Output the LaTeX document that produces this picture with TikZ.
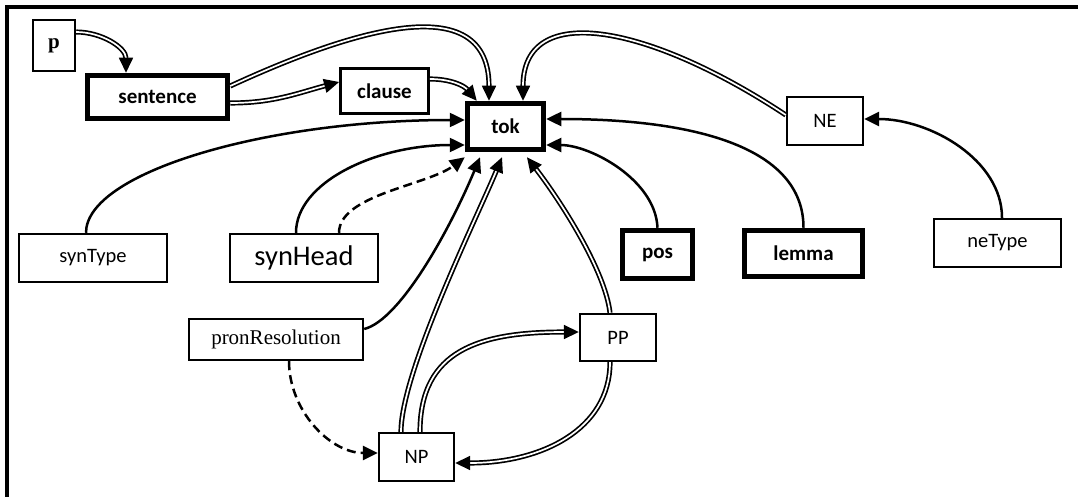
\documentclass[tikz,border=0pt]{standalone}
\usepackage{fontspec}
\setmainfont{Carlito}
\newfontfamily\tnr{Liberation Serif}
\usetikzlibrary{arrows.meta}
\tikzset{
  box/.style={draw, line width=2.4pt, inner sep=0pt, font=\fontsize{20.5}{24}\selectfont},
  thickbox/.style={box, line width=5.5pt, font=\fontsize{21}{24}\selectfont\bfseries},
  conn/.style={line width=2.5pt, -{Triangle[length=15pt,width=14pt]}},
  dconn/.style={line width=1.7pt, double, double distance=1.7pt, -{Triangle[length=15pt,width=14pt]}},
  dashconn/.style={conn, dash pattern=on 9pt off 5pt}
}
\begin{document}
\begin{tikzpicture}[x=1pt,y=1pt]
\useasboundingbox (0,0) rectangle (1078,-497);
\draw[line width=3.5pt] (5,-7) -- (1078,-7);
\draw[line width=3.5pt] (7,-7) -- (7,-497);

\node[box, minimum width=42, minimum height=51, font=\fontsize{21}{24}\selectfont\tnr\bfseries] (p) at (54,-45.5) {p};
\node[thickbox, minimum width=140, minimum height=43] (sentence) at (157.5,-97) {sentence};
\node[box, line width=2.8pt, minimum width=88, minimum height=45, font=\fontsize{21}{24}\selectfont\bfseries] (clause) at (384.5,-91) {clause};
\node[thickbox, minimum width=76, minimum height=46] (tok) at (505.5,-126.5) {tok};
\node[box, minimum width=76, minimum height=48] (NE) at (825,-121) {NE};
\node[box, minimum width=148, minimum height=48] (synType) at (93,-258) {synType};
\node[box, minimum width=148, minimum height=48, font=\fontsize{28.5}{32}\selectfont] (synHead) at (304,-258) {synHead};
\node[thickbox, minimum width=70, minimum height=48] (pos) at (657.5,-254.5) {pos};
\node[thickbox, minimum width=118, minimum height=46] (lemma) at (803.5,-253.5) {lemma};
\node[box, minimum width=127, minimum height=48] (neType) at (997.5,-243) {neType};
\node[box, minimum width=174, minimum height=41, font=\fontsize{21}{24}\selectfont\tnr] (pronResolution) at (276,-339.5) {pronResolution};
\node[box, minimum width=76, minimum height=47] (PP) at (618,-337.5) {PP};
\node[box, minimum width=75, minimum height=48] (NP) at (416.5,-457) {NP};

% double connectors
\draw[dconn] ([yshift=13.5]p.east) to[out=0,in=90] ([xshift=-31.5]sentence.north);
\draw[dconn] ([yshift=11]sentence.east) .. controls +(100,46) and +(0,121) .. ([xshift=-16.5]tok.north);
\draw[dconn] ([yshift=-6]sentence.east) to[out=0,in=195] ([yshift=9]clause.west);
\draw[dconn] ([yshift=12]clause.east) to[out=0,in=130] ([xshift=12]tok.north west);
\draw[dconn] ([yshift=6]NE.west) .. controls +(-136,90) and +(0,101) .. ([xshift=17.5]tok.north);
\draw[dconn] ([xshift=-15.5]NP.north) .. controls +(0,60) and +(-25,-60) .. ([shift={(-3.5,-5)}]tok.south);
\draw[dconn] ([xshift=-8]PP.north) .. controls +(-5,43) and +(33,-43) .. ([shift={(21.5,-5)}]tok.south);
\draw[dconn] ([xshift=3.5]NP.north) .. controls +(0,82) and +(-99,0) .. ([yshift=5.5]PP.west);
\draw[dconn] ([xshift=-8]PP.south) .. controls +(0,-68) and +(85,0) .. ([yshift=-6]NP.east);

% single connectors
\draw[conn] ([xshift=-7]synType.north) .. controls +(0,60) and +(-200,0) .. ([yshift=6.5]tok.west);
\draw[conn] ([xshift=-8]synHead.north) .. controls +(0,50) and +(-90,0) .. ([yshift=-18.5]tok.west);
\draw[conn] ([yshift=10.5]pronResolution.east) .. controls +(36,9) and +(-30,-72) .. ([shift={(-25.5,-5)}]tok.south);
\draw[conn] (lemma.north) .. controls +(0,80) and +(150,0) .. ([yshift=7.5]tok.east);
\draw[conn] (pos.north) .. controls +(-2,48) and +(44,0) .. ([yshift=-18.5]tok.east);
\draw[conn] ([xshift=4.5]neType.north) .. controls +(0,58) and +(66,0) .. ([yshift=2]NE.east);

% dashed connectors
\draw[dashconn] ([xshift=35]synHead.north) .. controls +(0,38) and +(-37,-28) .. ([shift={(0,-5)}]tok.south west);
\draw[dashconn] ([xshift=13]pronResolution.south) .. controls +(0,-49) and +(-48,0) .. ([yshift=4]NP.west);
\end{tikzpicture}
\end{document}
